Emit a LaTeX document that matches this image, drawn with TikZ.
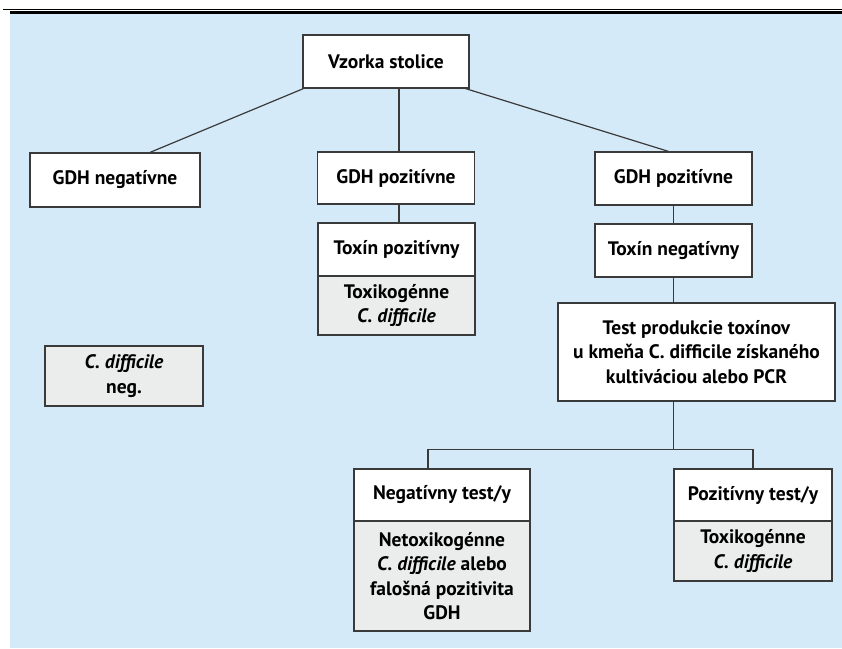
\documentclass[tikz,border=0pt]{standalone}
\usepackage{fontspec}
\setmainfont{PT Sans}
\usetikzlibrary{calc}
\definecolor{bgblue}{HTML}{D5EAF8}
\definecolor{boxgrey}{HTML}{EBECEC}
\definecolor{edge}{HTML}{3A3A3A}
\tikzset{
  box/.style={draw=edge, line width=1.2pt, fill=white, align=center, inner sep=0pt,
    font=\fontsize{19.5}{24.5}\selectfont\bfseries, text=black},
  gbox/.style={box, fill=boxgrey},
  link/.style={draw=edge, line width=1.2pt}
}
\begin{document}
\begin{tikzpicture}[x=1pt,y=-1pt]
\useasboundingbox (0,0) rectangle (842,648);
\fill[white] (0,0) rectangle (842,648);
\fill[bgblue] (10,13) rectangle (842,648);
\draw[line width=0.8pt] (3,9) -- (842,9);
\draw[line width=2.6pt] (10,12.3) -- (842,12.3);

\node[box, minimum width=166pt, minimum height=53pt] (vz) at (386,61.5) {Vzorka stolice};
\node[box, minimum width=170pt, minimum height=54pt] (gneg) at (115,180) {GDH negatívne};
\node[box, minimum width=157pt, minimum height=52pt] (gpm) at (396,178) {GDH pozitívne};
\node[box, minimum width=157pt, minimum height=53pt] (tpm) at (396.5,249.5) {Toxín pozitívny};
\node[gbox, minimum width=157pt, minimum height=59pt] (tpmg) at (396.5,305.5) {Toxikogénne\\\textit{C. difficile}};
\node[box, minimum width=157pt, minimum height=53pt] (gpr) at (673.5,178.5) {GDH pozitívne};
\node[box, minimum width=157pt, minimum height=53pt] (tnr) at (673.5,250.5) {Toxín negatívny};
\node[box, minimum width=277pt, minimum height=98pt] (test) at (696.5,352) {Test produkcie toxínov\\u kmeňa C. difficile získaného\\kultiváciou alebo PCR};
\node[box, minimum width=176pt, minimum height=52pt] (ntest) at (442,495) {Negatívny test/y};
\node[gbox, minimum width=176pt, minimum height=110pt] (ntestg) at (442,576) {Netoxikogénne\\\textit{C. difficile} alebo\\falošná pozitivita\\GDH};
\node[box, minimum width=158pt, minimum height=52pt] (ptest) at (753,495) {Pozitívny test/y};
\node[gbox, minimum width=158pt, minimum height=60pt] (ptestg) at (753,551) {Toxikogénne\\\textit{C. difficile}};
\node[gbox, minimum width=158pt, minimum height=60pt] (cneg) at (124,376) {\textit{C. difficile}\\neg.};

\coordinate (j) at ($(tnr.south)+(0,172)$);
\draw[link] ($(vz.south west)+(1,0)$) -- ($(gneg.north)+(35,0)$);
\draw[link] ($(vz.south)+(13,0)$) -- ($(gpm.north)+(3,0)$);
\draw[link] ($(vz.south east)+(-4,0)$) -- ($(gpr.north)+(-5,0)$);
\draw[link] ($(gpm.south)+(3,0)$) -- ($(tpm.north)+(2.5,0)$);
\draw[link] (gpr.south) -- (tnr.north);
\draw[link] (tnr.south) -- (tnr.south |- test.north);
\draw[link] (tnr.south |- test.south) -- (j);
\draw[link] ($(ntest.north)+(-14,0)$) |- (j) -| (ptest.north);
\end{tikzpicture}
\end{document}
